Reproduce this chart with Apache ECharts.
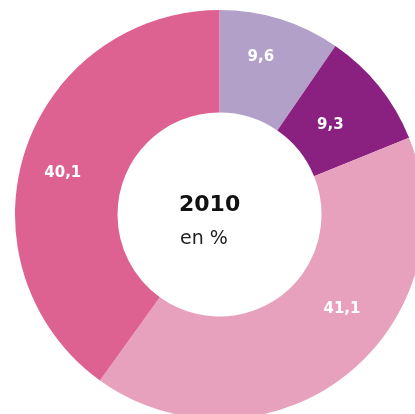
<!DOCTYPE html>
<html>
<head>
<meta charset="utf-8">
<script src="https://cdn.jsdelivr.net/npm/echarts@6/dist/echarts.min.js"></script>
<style>
  html, body { margin: 0; padding: 0; background: #fff; }
  #chart { width: 415px; height: 414px; }
</style>
</head>
<body>
<div id="chart"></div>
<script>
// parts, clockwise from the top
var parts = ["A", "B", "C", "D"];
var values = [9.6, 9.3, 41.1, 40.1];
var colors = ["#b3a0c9", "#8a2180", "#e8a1bd", "#dd6292"];
// small shifts of the value labels away from the slice middle
var labelNudge = [[-5, -8], [-11, 8], [26, -28], [-8, 7]];

var yearText = "2010";
var unitText = "en %";

var chartData = [];
for (var i = 0; i < values.length; i++) {
  chartData.push({ name: parts[i], value: values[i], itemStyle: { color: colors[i] } });
}

var myChart = echarts.init(document.getElementById("chart"));
myChart.setOption({
  animation: false,
  graphic: [
    {
      type: "text", left: 219 - 40, top: 194, z: 10,
      style: { text: yearText, width: 80, align: "center", font: "bold 22px 'DejaVu Sans'", fill: "#111" }
    },
    {
      type: "text", left: 220 - 40, top: 230, z: 10,
      style: { text: unitText, width: 80, align: "center", font: "19px 'DejaVu Sans'", fill: "#222" }
    }
  ],
  series: [{
    type: "pie",
    center: [219.5, 214.5],
    radius: [102, 204.5],
    startAngle: 90,
    clockwise: true,
    silent: true,
    itemStyle: { borderWidth: 0 },
    label: {
      show: true,
      position: "inside",
      color: "#fff",
      fontFamily: "DejaVu Sans",
      fontWeight: "bold",
      fontSize: 15,
      formatter: function (p) { return String(p.value).replace(".", ","); }
    },
    labelLine: { show: false },
    labelLayout: function (p) {
      var n = labelNudge[p.dataIndex];
      return { dx: n[0], dy: n[1] };
    },
    data: chartData
  }]
});
</script>
</body>
</html>
